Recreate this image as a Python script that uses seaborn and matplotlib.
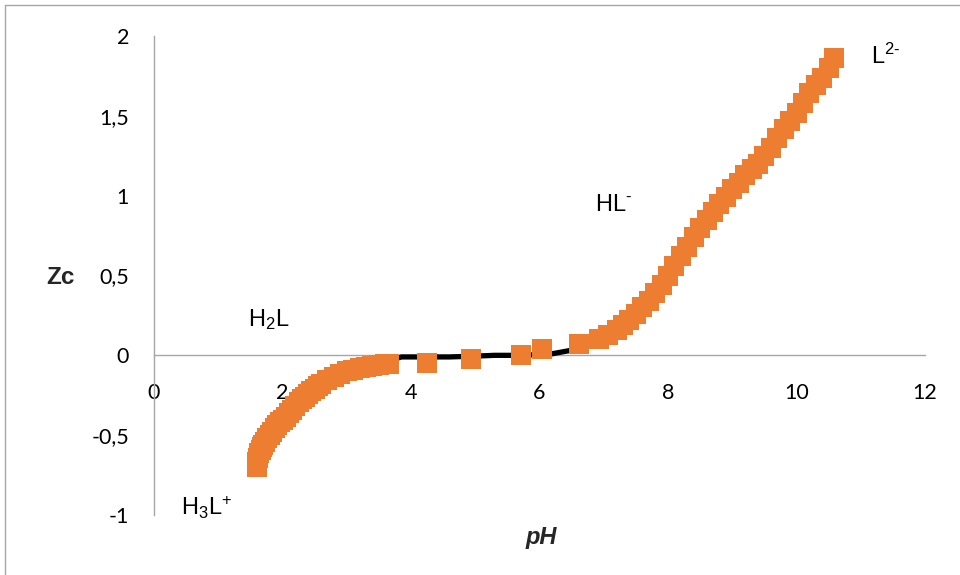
import matplotlib
matplotlib.use("Agg")
import matplotlib.pyplot as plt
import seaborn as sns
import pandas as pd
from matplotlib.lines import Line2D

# ---- data ----
ph_points = [1.60, 1.61, 1.62, 1.64, 1.66, 1.68, 1.70, 1.73, 1.76, 1.80, 1.84, 1.88, 1.92,
             1.96, 2.00, 2.05, 2.10, 2.15, 2.20, 2.25, 2.30, 2.35, 2.40, 2.45, 2.50, 2.55,
             2.60, 2.70, 2.80, 2.90, 3.00, 3.10, 3.20, 3.30, 3.40, 3.50, 3.60, 3.66,
             4.25, 4.93, 5.71, 6.04, 6.62,
             6.93, 7.07, 7.20, 7.30, 7.40, 7.50, 7.60, 7.70, 7.80, 7.90, 8.00, 8.10, 8.20,
             8.30, 8.40, 8.50, 8.60, 8.70, 8.80, 8.90, 9.00, 9.10, 9.20, 9.30, 9.40, 9.50,
             9.60, 9.70, 9.80, 9.90, 10.00, 10.10, 10.20, 10.30, 10.40, 10.50, 10.59]
zc_points = [-0.70, -0.67, -0.64, -0.61, -0.59, -0.575, -0.56, -0.54, -0.52, -0.50, -0.48, -0.455, -0.435,
             -0.42, -0.405, -0.385, -0.36, -0.34, -0.315, -0.295, -0.275, -0.26, -0.24, -0.225, -0.21, -0.195,
             -0.18, -0.155, -0.135, -0.115, -0.10, -0.09, -0.08, -0.072, -0.065, -0.06, -0.056, -0.053,
             -0.05, -0.025, 0.00, 0.04, 0.07,
             0.10, 0.13, 0.16, 0.19, 0.22, 0.26, 0.30, 0.34, 0.39, 0.44, 0.50, 0.56, 0.62,
             0.68, 0.74, 0.80, 0.85, 0.90, 0.95, 0.99, 1.04, 1.08, 1.13, 1.17, 1.20, 1.25,
             1.30, 1.36, 1.42, 1.47, 1.52, 1.58, 1.64, 1.69, 1.74, 1.80, 1.86]

ph_model = [1.60, 2.00, 2.50, 3.00, 3.50, 3.70, 3.85, 4.20, 4.60, 5.00, 5.30, 5.70, 6.00, 6.20,
            6.47, 6.62, 7.00, 7.50, 8.00, 8.50, 9.00, 9.50, 10.00, 10.59]
zc_model = [-0.70, -0.40, -0.21, -0.10, -0.06, -0.03, -0.01, -0.01, -0.01, -0.005, 0.00, 0.00, 0.005, 0.01,
            0.03, 0.05, 0.11, 0.26, 0.50, 0.80, 1.04, 1.25, 1.52, 1.86]

x_ticks = [0, 2, 4, 6, 8, 10, 12]
x_labels = ["0", "2", "4", "6", "8", "10", "12"]
y_ticks = [-1, -0.5, 0, 0.5, 1, 1.5, 2]
y_labels = ["-1", "-0,5", "0", "0,5", "1", "1,5", "2"]

species = [r"H$_\text{3}$L$^\text{+}$", r"H$_\text{2}$L", r"HL$^\text{-}$", r"L$^\text{2-}$"]
species_x = [0.42, 1.46, 6.86, 11.16]
species_y = [-0.955, 0.226, 0.94, 1.87]

sns.set_theme(style="white")
plt.rcParams["font.family"] = ["Lato", "DejaVu Sans"]
plt.rcParams["mathtext.fontset"] = "custom"
plt.rcParams["mathtext.rm"] = "Liberation Sans"
plt.rcParams["mathtext.it"] = "Liberation Sans:italic"
plt.rcParams["mathtext.bf"] = "Liberation Sans:bold"

fig = plt.figure(figsize=(9.6, 5.75), dpi=100)
ax = fig.add_axes([154 / 960, 1 - 515 / 575, (925 - 154) / 960, (515 - 36) / 575])

df_pts = pd.DataFrame({"pH": ph_points, "Zc": zc_points})
df_mod = pd.DataFrame({"pH": ph_model, "Zc": zc_model})

sns.lineplot(data=df_mod, x="pH", y="Zc", sort=False, estimator=None, color="black",
             linewidth=3.8, ax=ax, zorder=2)
sns.scatterplot(data=df_pts, x="pH", y="Zc", marker="s", s=205, color="#ED7D31",
                linewidth=0, ax=ax, zorder=3)

ax.set_xlim(0, 12)
ax.set_ylim(-1, 2)
ax.set_xticks(x_ticks)
ax.set_xticklabels(x_labels)
ax.set_yticks(y_ticks)
ax.set_yticklabels(y_labels)

for s in ["top", "right"]:
    ax.spines[s].set_visible(False)
ax.spines["bottom"].set_position(("data", 0))
ax.spines["left"].set_position(("data", 0))
for s in ["bottom", "left"]:
    ax.spines[s].set_color("#a6a6a6")
    ax.spines[s].set_linewidth(1.0)
    ax.spines[s].set_zorder(1)

ax.tick_params(axis="both", which="major", direction="out", length=6, width=1,
               color="#a6a6a6", labelsize=15.5, labelcolor="black")
ax.tick_params(axis="x", pad=14)
ax.tick_params(axis="y", pad=12)

ax.set_xlabel("pH", fontsize=17, fontweight="bold", fontstyle="italic",
              family=["Liberation Sans", "DejaVu Sans"], va="center")
ax.xaxis.set_label_coords(0.502, -0.046)
ax.set_ylabel("Zc", fontsize=17.5, fontweight="bold", rotation=0,
              family=["Liberation Sans", "DejaVu Sans"], va="center", ha="center")
ax.yaxis.set_label_coords(-0.122, 0.495)

for lab, x, y in zip(species, species_x, species_y):
    ax.text(x, y, lab, fontsize=17, color="black", ha="left", va="center",
            family=["Liberation Sans", "DejaVu Sans"])

# chart area border (left and top edges visible)
fig.add_artist(Line2D([5 / 960, 5 / 960], [0, 1 - 5 / 575], transform=fig.transFigure,
                      color="#a6a6a6", linewidth=1))
fig.add_artist(Line2D([5 / 960, 1], [1 - 5 / 575, 1 - 5 / 575], transform=fig.transFigure,
                      color="#a6a6a6", linewidth=1))

fig.savefig("out.png", dpi=100)
